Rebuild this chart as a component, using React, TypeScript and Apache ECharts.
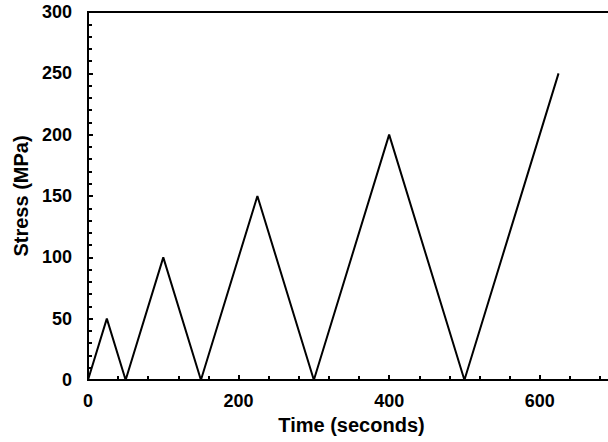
import React, { useEffect, useRef } from "react";
import * as echarts from "echarts";

const timeSeconds = [0, 25, 50, 100, 150, 225, 300, 400, 500, 625];
const stressMPa = [0, 50, 0, 100, 0, 150, 0, 200, 0, 250];

export default function App() {
  const ref = useRef<HTMLDivElement>(null);
  useEffect(() => {
    if (!ref.current) return;
    const chart = echarts.init(ref.current, null, { renderer: "svg" });
    const font = "'Liberation Sans', Arial, sans-serif";
    chart.setOption({
      animation: false,
      backgroundColor: "#ffffff",
      grid: {
        left: 88,
        top: 12,
        bottom: 62,
        right: 7,
        show: true,
        borderColor: "#000",
        borderWidth: 2,
        backgroundColor: "transparent",
      },
      xAxis: {
        type: "value",
        min: 0,
        max: 700,
        interval: 200,
        name: "Time (seconds)",
        nameLocation: "middle",
        nameGap: 35,
        nameTextStyle: { fontFamily: font, fontWeight: "bold", fontSize: 20, color: "#000" },
        axisLine: { show: true, lineStyle: { color: "#000", width: 2 } },
        axisTick: { show: true, inside: true, length: 5, lineStyle: { color: "#000", width: 2 } },
        minorTick: { show: true, splitNumber: 5, length: 4, lineStyle: { color: "#000", width: 2 } },
        splitLine: { show: false },
        axisLabel: {
          showMaxLabel: false,
          fontFamily: font,
          fontWeight: "bold",
          fontSize: 18,
          color: "#000",
          margin: 12,
        },
      },
      yAxis: {
        type: "value",
        min: 0,
        max: 300,
        interval: 50,
        name: "Stress (MPa)",
        nameLocation: "middle",
        nameGap: 55,
        nameTextStyle: { fontFamily: font, fontWeight: "bold", fontSize: 20, color: "#000" },
        axisLine: { show: true, lineStyle: { color: "#000", width: 2 } },
        axisTick: { show: true, inside: true, length: 5, lineStyle: { color: "#000", width: 2 } },
        minorTick: { show: true, splitNumber: 5, length: 4, lineStyle: { color: "#000", width: 2 } },
        splitLine: { show: false },
        axisLabel: {
          fontFamily: font,
          fontWeight: "bold",
          fontSize: 18,
          color: "#000",
          margin: 16,
        },
      },
      series: [
        {
          type: "line",
          data: timeSeconds.map((t, i) => [t, stressMPa[i]]),
          symbol: "none",
          lineStyle: { color: "#000", width: 2 },
          clip: true,
        },
      ],
    });
    return () => chart.dispose();
  }, []);
  return (
    <div style={{ position: "fixed", left: 0, top: 0, width: 608, height: 442, overflow: "hidden", background: "#fff" }}>
      <div ref={ref} style={{ width: 622, height: 442 }} />
    </div>
  );
}
